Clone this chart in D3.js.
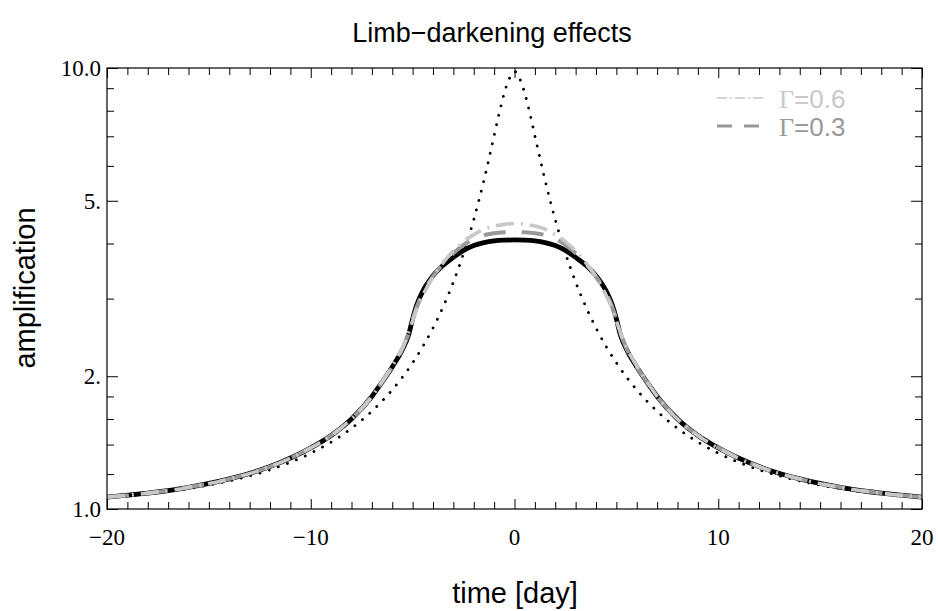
<!DOCTYPE html>
<html>
<head>
<meta charset="utf-8">
<script src="https://cdn.jsdelivr.net/npm/d3@7"></script>
<style>
html,body{margin:0;padding:0;background:#fff;}
svg{display:block;}
</style>
</head>
<body>
<svg id="chart" width="938" height="611"></svg>
<script>
// ---- data ----
const timePS = [-20,-18,-16,-14,-12,-10,-9,-8,-7,-6,-5,-4.5,-4,-3.5,-3,-2.5,-2,-1.75,-1.5,-1.25,-1,-0.75,-0.5,-0.25,0,
                0.25,0.5,0.75,1,1.25,1.5,1.75,2,2.5,3,3.5,4,4.5,5,6,7,8,9,10,12,14,16,18,20];
const pointSource = [1.060,1.082,1.112,1.158,1.227,1.338,1.418,1.524,1.666,1.863,2.145,2.336,2.573,2.876,3.271,3.799,4.529,5.001,5.565,6.236,7.02,7.90,8.78,9.47,9.82,
                9.47,8.78,7.90,7.02,6.236,5.565,5.001,4.529,3.799,3.271,2.876,2.573,2.336,2.145,1.863,1.666,1.524,1.418,1.338,1.227,1.158,1.112,1.082,1.060];

const timeFS = [-20,-18,-16,-14,-12,-10,-9,-8,-7,-6.5,-6,-5.5,-5.2,-5,-4.8,-4.5,-4,-3.5,-3,-2.5,-2,-1.5,-1,-0.5,0,
                0.5,1,1.5,2,2.5,3,3.5,4,4.5,4.8,5,5.2,5.5,6,6.5,7,8,9,10,12,14,16,18,20];
const uniformDisk = [1.064,1.0865,1.120,1.170,1.248,1.376,1.468,1.60,1.80,1.94,2.10,2.30,2.48,2.70,2.90,3.12,3.38,3.57,3.72,3.86,3.96,4.02,4.055,4.07,4.075,
                4.07,4.055,4.02,3.96,3.86,3.72,3.57,3.38,3.12,2.90,2.70,2.48,2.30,2.10,1.94,1.80,1.60,1.468,1.376,1.248,1.170,1.120,1.0865,1.064];
const gamma03 = [1.064,1.0865,1.120,1.170,1.248,1.376,1.468,1.60,1.80,1.94,2.10,2.31,2.50,2.69,2.87,3.08,3.37,3.60,3.80,3.97,4.10,4.18,4.22,4.24,4.25,
                4.24,4.22,4.18,4.10,3.97,3.80,3.60,3.37,3.08,2.87,2.69,2.50,2.31,2.10,1.94,1.80,1.60,1.468,1.376,1.248,1.170,1.120,1.0865,1.064];
const gamma06 = [1.064,1.086,1.119,1.169,1.247,1.375,1.467,1.60,1.80,1.945,2.11,2.32,2.51,2.67,2.84,3.05,3.36,3.62,3.85,4.04,4.19,4.31,4.38,4.42,4.44,
                4.42,4.38,4.31,4.19,4.04,3.85,3.62,3.36,3.05,2.84,2.67,2.51,2.32,2.11,1.945,1.80,1.60,1.467,1.375,1.247,1.169,1.119,1.086,1.064];

const xMajor = [-20,-10,0,10,20];
const xMajorLabels = ["\u221220","\u221210","0","10","20"];
const yMajor = [1,2,5,10];
const yMajorLabels = ["1.0","2.","5.","10.0"];
const yMinor = [1.2,1.4,1.6,1.8,3,4,6,7,8,9];
const legendLabels = ["=0.6","=0.3"];

const titleText = "Limb\u2212darkening effects";
const xTitle = "time [day]";
const yTitle = "amplification";

// ---- layout ----
const L = 107, R = 922, T = 68, B = 509;
const svg = d3.select("#chart");
const x = d3.scaleLinear().domain([-20,20]).range([L,R]);
const y = d3.scaleLog().domain([1,10]).range([B,T]);

const serif = "'Liberation Serif','Times New Roman',serif";
const sans = "'Liberation Sans',Arial,Helvetica,sans-serif";

svg.append("defs").append("clipPath").attr("id","clip")
  .append("rect").attr("x",L).attr("y",T-1).attr("width",R-L).attr("height",B-T+1);

// ---- curves ----
const line = (tArr) => d3.line().x((d,i)=>x(tArr[i])).y(d=>y(d)).curve(d3.curveMonotoneX);
const g = svg.append("g").attr("clip-path","url(#clip)");

g.append("path").datum(pointSource).attr("d", line(timePS))
  .attr("fill","none").attr("stroke","#000").attr("stroke-width",2.8)
  .attr("stroke-linecap","round").attr("stroke-dasharray","0.1 9.6");

g.append("path").datum(uniformDisk).attr("d", line(timeFS))
  .attr("fill","none").attr("stroke","#000").attr("stroke-width",4.8);

g.append("path").datum(gamma03).attr("d", line(timeFS))
  .attr("fill","none").attr("stroke","#999").attr("stroke-width",4)
  .attr("stroke-dasharray","22 16");

g.append("path").datum(gamma06).attr("d", line(timeFS))
  .attr("fill","none").attr("stroke","#c8c8c8").attr("stroke-width",3.6)
  .attr("stroke-dasharray","18 7 2 7");

// ---- frame & ticks ----
const axes = svg.append("g");
axes.append("rect").attr("x",L).attr("y",T).attr("width",R-L).attr("height",B-T)
  .attr("fill","none").attr("stroke","#000").attr("stroke-width",1.2);

const xMinorTicks = d3.range(-19,20,1).filter(v => !xMajor.includes(v));
const xAxisB = d3.axisBottom(x).tickValues(xMinorTicks).tickSize(-7).tickFormat("");
const xAxisT = d3.axisTop(x).tickValues(xMinorTicks).tickSize(-7).tickFormat("");
const xAxisBM = d3.axisBottom(x).tickValues(xMajor).tickSize(-10).tickFormat("");
const xAxisTM = d3.axisTop(x).tickValues(xMajor).tickSize(-10).tickFormat("");
const yAxisL = d3.axisLeft(y).tickValues(yMinor).tickSize(-7).tickFormat("");
const yAxisR = d3.axisRight(y).tickValues(yMinor).tickSize(-7).tickFormat("");
const yAxisLM = d3.axisLeft(y).tickValues(yMajor).tickSize(-11).tickFormat("");
const yAxisRM = d3.axisRight(y).tickValues(yMajor).tickSize(-11).tickFormat("");

[[xAxisB,`translate(0,${B})`],[xAxisBM,`translate(0,${B})`],
 [xAxisT,`translate(0,${T})`],[xAxisTM,`translate(0,${T})`],
 [yAxisL,`translate(${L},0)`],[yAxisLM,`translate(${L},0)`],
 [yAxisR,`translate(${R},0)`],[yAxisRM,`translate(${R},0)`]].forEach(([ax,tr])=>{
  const a = axes.append("g").attr("transform",tr).call(ax);
  a.select(".domain").remove();
  a.selectAll("line").attr("stroke","#000").attr("stroke-width",1);
});

// tick labels
axes.selectAll(".xl").data(xMajor).enter().append("text")
  .attr("x",d=>x(d)).attr("y",B+36).attr("text-anchor","middle")
  .attr("font-family",serif).attr("font-size",23).text((d,i)=>xMajorLabels[i]);
axes.selectAll(".yl").data(yMajor).enter().append("text")
  .attr("x",L-6).attr("y",d=>y(d)).attr("dy","0.34em").attr("text-anchor","end")
  .attr("font-family",serif).attr("font-size",23).text((d,i)=>yMajorLabels[i]);

// titles
svg.append("text").attr("x",492).attr("y",42).attr("text-anchor","middle")
  .attr("font-family",sans).attr("font-size",27).text(titleText);
svg.append("text").attr("x",515).attr("y",603).attr("text-anchor","middle")
  .attr("font-family",sans).attr("font-size",29).text(xTitle);
svg.append("text").attr("transform","translate(35,288) rotate(-90)").attr("text-anchor","middle")
  .attr("font-family",sans).attr("font-size",29).text(yTitle);

// ---- legend ----
const leg = svg.append("g");
const legRows = [
  {y:98, color:"#c8c8c8", dash:"10 3 2 3", w:1.6, label:legendLabels[0]},
  {y:126, color:"#999999", dash:"15 12", w:3, label:legendLabels[1]}
];
legRows.forEach(r=>{
  leg.append("line").attr("x1",717).attr("x2",766).attr("y1",r.y).attr("y2",r.y)
    .attr("stroke",r.color).attr("stroke-width",r.w).attr("stroke-dasharray",r.dash);
  const t = leg.append("text").attr("x",779).attr("y",r.y+10).attr("fill",r.color).attr("font-size",26);
  t.append("tspan").attr("font-family",serif).text("\u0393");
  t.append("tspan").attr("font-family",sans).text(r.label);
});
</script>
</body>
</html>
